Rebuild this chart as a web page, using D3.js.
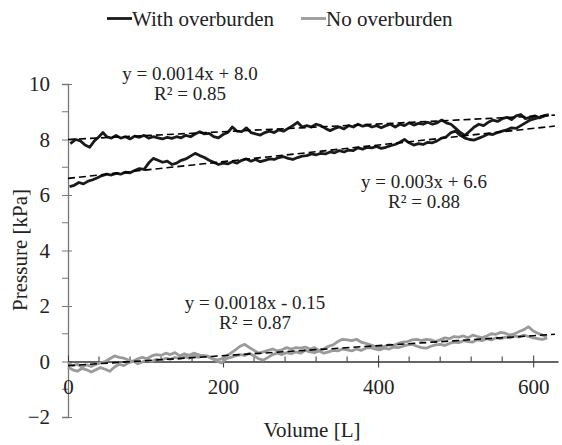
<!DOCTYPE html>
<html>
<head>
<meta charset="utf-8">
<script src="https://cdn.jsdelivr.net/npm/d3@7"></script>
<style>
    body { margin: 0; background: #fff; }
    svg text { font-family: "Liberation Serif", "Times New Roman", "DejaVu Serif", serif !important; fill: #222; }
</style>
</head>
<body>
<svg id="chart" width="562" height="445"></svg>
<script>
// --- data (volume [L], pressure [kPa]) ---
var withRunA = [[3,7.85],[10,8.0],[16,7.95],[22,7.8],[28,7.72],[34,7.95],[40,8.1],[45,8.25],[50,8.1],[56,8.05],[62,8.15],[68,8.05],[74,8.1],[80,8.02],[86,8.12],[92,8.08],[98,8.15],[104,8.05],[110,8.1],[116,8.06],[122,8.02],[128,8.08],[134,8.04],[140,8.1],[146,8.06],[152,8.15],[158,8.1],[164,8.2],[170,8.28],[176,8.2],[182,8.22],[188,8.1],[194,8.06],[200,8.18],[206,8.25],[212,8.45],[218,8.3],[224,8.28],[230,8.42],[236,8.25],[242,8.2],[248,8.16],[254,8.25],[260,8.3],[266,8.25],[272,8.35],[278,8.3],[284,8.4],[290,8.5],[296,8.62],[302,8.45],[308,8.5],[314,8.45],[320,8.55],[326,8.5],[332,8.4],[338,8.32],[344,8.4],[350,8.45],[356,8.38],[362,8.5],[368,8.45],[374,8.55],[380,8.48],[386,8.52],[392,8.45],[398,8.5],[404,8.42],[410,8.5],[416,8.55],[422,8.45],[428,8.55],[434,8.5],[440,8.6],[446,8.52],[452,8.58],[458,8.55],[464,8.62],[470,8.55],[476,8.6],[482,8.7],[488,8.6],[494,8.55],[500,8.4],[506,8.25],[512,8.15],[518,8.3],[524,8.45],[530,8.55],[536,8.5],[542,8.62],[548,8.7],[554,8.65],[560,8.75],[566,8.8],[572,8.72],[578,8.85],[584,8.9],[590,8.75],[596,8.8],[602,8.85],[608,8.78],[614,8.85],[620,8.9]];

var withRunB = [[2,6.3],[8,6.35],[14,6.45],[20,6.4],[26,6.5],[32,6.55],[38,6.62],[44,6.7],[50,6.75],[56,6.72],[62,6.78],[68,6.75],[74,6.82],[80,6.8],[86,6.88],[92,6.95],[98,6.92],[104,7.15],[110,7.32],[116,7.25],[122,7.18],[128,7.22],[134,7.1],[140,7.15],[146,7.25],[152,7.3],[158,7.4],[164,7.5],[170,7.42],[176,7.35],[182,7.25],[188,7.18],[194,7.1],[200,7.15],[206,7.12],[212,7.2],[218,7.15],[224,7.25],[230,7.3],[236,7.22],[242,7.28],[248,7.2],[254,7.25],[260,7.3],[266,7.28],[272,7.35],[278,7.38],[284,7.32],[290,7.28],[296,7.35],[302,7.4],[308,7.42],[314,7.48],[320,7.45],[326,7.5],[332,7.48],[338,7.55],[344,7.52],[350,7.6],[356,7.55],[362,7.62],[368,7.6],[374,7.7],[380,7.65],[386,7.72],[392,7.7],[398,7.75],[404,7.68],[410,7.72],[416,7.78],[422,7.82],[428,7.9],[434,8.0],[440,7.88],[446,7.8],[452,7.85],[458,7.82],[464,7.9],[470,7.88],[476,7.95],[482,8.05],[488,8.1],[494,8.25],[500,8.3],[506,8.15],[512,8.05],[518,8.0],[524,7.98],[530,8.05],[536,8.12],[542,8.2],[548,8.18],[554,8.25],[560,8.3],[566,8.35],[572,8.42],[578,8.4],[584,8.5],[590,8.6],[596,8.7],[602,8.75],[608,8.8],[614,8.85],[620,8.88]];

var noRunA = [[0,-0.05],[6,-0.15],[12,-0.1],[18,-0.2],[24,-0.12],[30,-0.18],[36,-0.1],[42,-0.05],[48,0.0],[54,0.1],[60,0.2],[66,0.15],[72,0.12],[78,0.05],[84,0.0],[90,0.1],[96,0.15],[102,0.1],[108,0.2],[114,0.25],[120,0.22],[126,0.3],[132,0.25],[138,0.32],[144,0.2],[150,0.28],[156,0.22],[162,0.3],[168,0.25],[174,0.18],[180,0.2],[186,0.12],[192,0.05],[198,0.1],[204,0.2],[210,0.3],[216,0.42],[222,0.55],[228,0.62],[234,0.5],[240,0.4],[246,0.3],[252,0.35],[258,0.4],[264,0.45],[270,0.38],[276,0.42],[282,0.5],[288,0.45],[294,0.5],[300,0.48],[306,0.52],[312,0.45],[318,0.5],[324,0.4],[330,0.45],[336,0.55],[342,0.6],[348,0.72],[354,0.8],[360,0.78],[366,0.75],[372,0.8],[378,0.7],[384,0.65],[390,0.6],[396,0.55],[402,0.5],[408,0.55],[414,0.6],[420,0.58],[426,0.65],[432,0.7],[438,0.72],[444,0.78],[450,0.8],[456,0.75],[462,0.8],[468,0.78],[474,0.72],[480,0.78],[486,0.85],[492,0.82],[498,0.9],[504,0.88],[510,0.92],[516,0.85],[522,0.95],[528,0.9],[534,0.85],[540,0.92],[546,1.0],[552,0.98],[558,1.05],[564,1.02],[570,0.95],[576,1.0],[582,1.08],[588,1.15],[594,1.25],[600,1.1],[606,1.02],[612,0.95],[618,0.9]];

var noRunB = [[0,-0.2],[6,-0.3],[12,-0.35],[18,-0.25],[24,-0.3],[30,-0.38],[36,-0.3],[42,-0.22],[48,-0.28],[54,-0.35],[60,-0.2],[66,-0.1],[72,-0.15],[78,-0.05],[84,0.02],[90,-0.08],[96,-0.02],[102,0.05],[108,0.0],[114,0.08],[120,0.05],[126,0.12],[132,0.08],[138,0.15],[144,0.1],[150,0.18],[156,0.12],[162,0.2],[168,0.15],[174,0.22],[180,0.18],[186,0.1],[192,0.02],[198,-0.05],[204,0.1],[210,0.15],[216,0.2],[222,0.25],[228,0.22],[234,0.3],[240,0.2],[246,0.1],[252,0.05],[258,0.15],[264,0.25],[270,0.3],[276,0.25],[282,0.32],[288,0.28],[294,0.35],[300,0.3],[306,0.4],[312,0.35],[318,0.32],[324,0.38],[330,0.3],[336,0.35],[342,0.4],[348,0.38],[354,0.45],[360,0.42],[366,0.38],[372,0.45],[378,0.4],[384,0.48],[390,0.5],[396,0.45],[402,0.42],[408,0.48],[414,0.45],[420,0.52],[426,0.5],[432,0.55],[438,0.6],[444,0.62],[450,0.55],[456,0.5],[462,0.48],[468,0.55],[474,0.6],[480,0.62],[486,0.58],[492,0.65],[498,0.7],[504,0.68],[510,0.75],[516,0.72],[522,0.7],[528,0.78],[534,0.75],[540,0.82],[546,0.78],[552,0.85],[558,0.82],[564,0.88],[570,0.85],[576,0.92],[582,0.88],[588,0.95],[594,0.9],[600,0.85],[606,0.82],[612,0.8],[618,0.85]];

// linear trend lines: [slope, intercept]
var trendSlopes = [0.0014, 0.003, 0.0018];
var trendIntercepts = [8.0, 6.6, -0.15];
var trendLabels = ['y = 0.0014x + 8.0', 'y = 0.003x + 6.6', 'y = 0.0018x - 0.15'];
var r2Labels = ['R\u00b2 = 0.85', 'R\u00b2 = 0.88', 'R\u00b2 = 0.87'];

var xTicks = [0, 200, 400, 600];
var yTicks = [-2, 0, 2, 4, 6, 8, 10];
var legendNames = ['With overburden', 'No overburden'];

var black = '#1a1a1a';
var grey = '#9a9a9a';
var serif = '"Liberation Serif", "Times New Roman", "DejaVu Serif", serif';

var svg = d3.select('#chart');

var x = d3.scaleLinear().domain([0, 632]).range([68, 558]);
var y = d3.scaleLinear().domain([-2, 10]).range([417, 84]);

// minor ticks
var xMinor = d3.range(0, 632, 40).filter(v => v % 200 !== 0);
var yMinor = d3.range(-1, 10, 2);

// y axis (vertical line at x = 0)
var yAxis = svg.append('g')
    .attr('transform', 'translate(' + x(0) + ',0)')
    .call(d3.axisLeft(y).tickValues(yTicks).tickSize(6).tickFormat(d3.format('d')));
yAxis.attr('font-family', serif);
yAxis.select('.domain').attr('stroke', '#777').attr('stroke-width', 1.3);
yAxis.selectAll('.tick line').attr('stroke', '#777').attr('x2', 4).attr('x1', -6);
yAxis.selectAll('.tick text').attr('x', -18).attr('font-size', 21).attr('fill', '#222');

svg.append('g').selectAll('line')
    .data(yMinor)
    .join('line')
    .attr('x1', x(0) - 6).attr('x2', x(0))
    .attr('y1', d => y(d)).attr('y2', d => y(d))
    .attr('stroke', '#777');

// x axis (horizontal line at y = 0)
var xAxis = svg.append('g')
    .attr('transform', 'translate(0,' + y(0) + ')')
    .call(d3.axisBottom(x).tickValues(xTicks).tickSize(6).tickSizeOuter(0).tickFormat(d3.format('d')));
xAxis.attr('font-family', serif);
xAxis.select('.domain').attr('stroke', '#333').attr('stroke-width', 1.3);
xAxis.selectAll('.tick line').attr('stroke', '#333').attr('y1', -6).attr('y2', 6);
xAxis.selectAll('.tick text').attr('y', 0).attr('dy', 32).attr('font-size', 21).attr('fill', '#222');

svg.append('g').selectAll('line')
    .data(xMinor)
    .join('line')
    .attr('x1', d => x(d)).attr('x2', d => x(d))
    .attr('y1', y(0) - 5).attr('y2', y(0))
    .attr('stroke', '#333');

// data traces
var line = d3.line()
    .x(d => x(d[0]))
    .y(d => y(d[1]));

var traces = [
    { data: noRunA, color: grey },
    { data: noRunB, color: grey },
    { data: withRunA, color: black },
    { data: withRunB, color: black }
];

svg.append('g').selectAll('path')
    .data(traces)
    .join('path')
    .attr('d', d => line(d.data))
    .attr('fill', 'none')
    .attr('stroke', d => d.color)
    .attr('stroke-width', 2.8)
    .attr('stroke-linejoin', 'round');

// dashed trend lines
svg.append('g').selectAll('line')
    .data(trendSlopes)
    .join('line')
    .attr('x1', x(0))
    .attr('x2', x(628))
    .attr('y1', (d, i) => y(trendIntercepts[i]))
    .attr('y2', (d, i) => y(trendIntercepts[i] + d * 628))
    .attr('stroke', '#000')
    .attr('stroke-width', 1.6)
    .attr('stroke-dasharray', '7,4');

// trend equations
var eqPos = [[190, 80], [424, 188], [255, 309]];
var eqGroup = svg.append('g').attr('font-size', 19).attr('text-anchor', 'middle');
eqGroup.selectAll('.eq')
    .data(trendLabels)
    .join('text')
    .attr('class', 'eq')
    .attr('x', (d, i) => eqPos[i][0])
    .attr('y', (d, i) => eqPos[i][1])
    .text(d => d);
eqGroup.selectAll('.r2')
    .data(r2Labels)
    .join('text')
    .attr('class', 'r2')
    .attr('x', (d, i) => eqPos[i][0])
    .attr('y', (d, i) => eqPos[i][1] + 20)
    .text(d => d);

// axis titles
svg.append('text')
    .attr('x', 312).attr('y', 437)
    .attr('text-anchor', 'middle')
    .attr('font-size', 21)
    .text('Volume [L]');

svg.append('text')
    .attr('transform', 'translate(27,250) rotate(-90)')
    .attr('text-anchor', 'middle')
    .attr('font-size', 21)
    .text('Pressure [kPa]');

// legend
var legendX = [107, 301];
var legendColors = [black, grey];
var legend = svg.append('g').selectAll('g')
    .data(legendNames)
    .join('g')
    .attr('transform', (d, i) => 'translate(' + legendX[i] + ',18.5)');
legend.append('line')
    .attr('x1', 0).attr('x2', 25)
    .attr('stroke', (d, i) => legendColors[i])
    .attr('stroke-width', 2.8);
legend.append('text')
    .attr('x', 25).attr('y', 7)
    .attr('font-size', 21)
    .text(d => d);
</script>
</body>
</html>
